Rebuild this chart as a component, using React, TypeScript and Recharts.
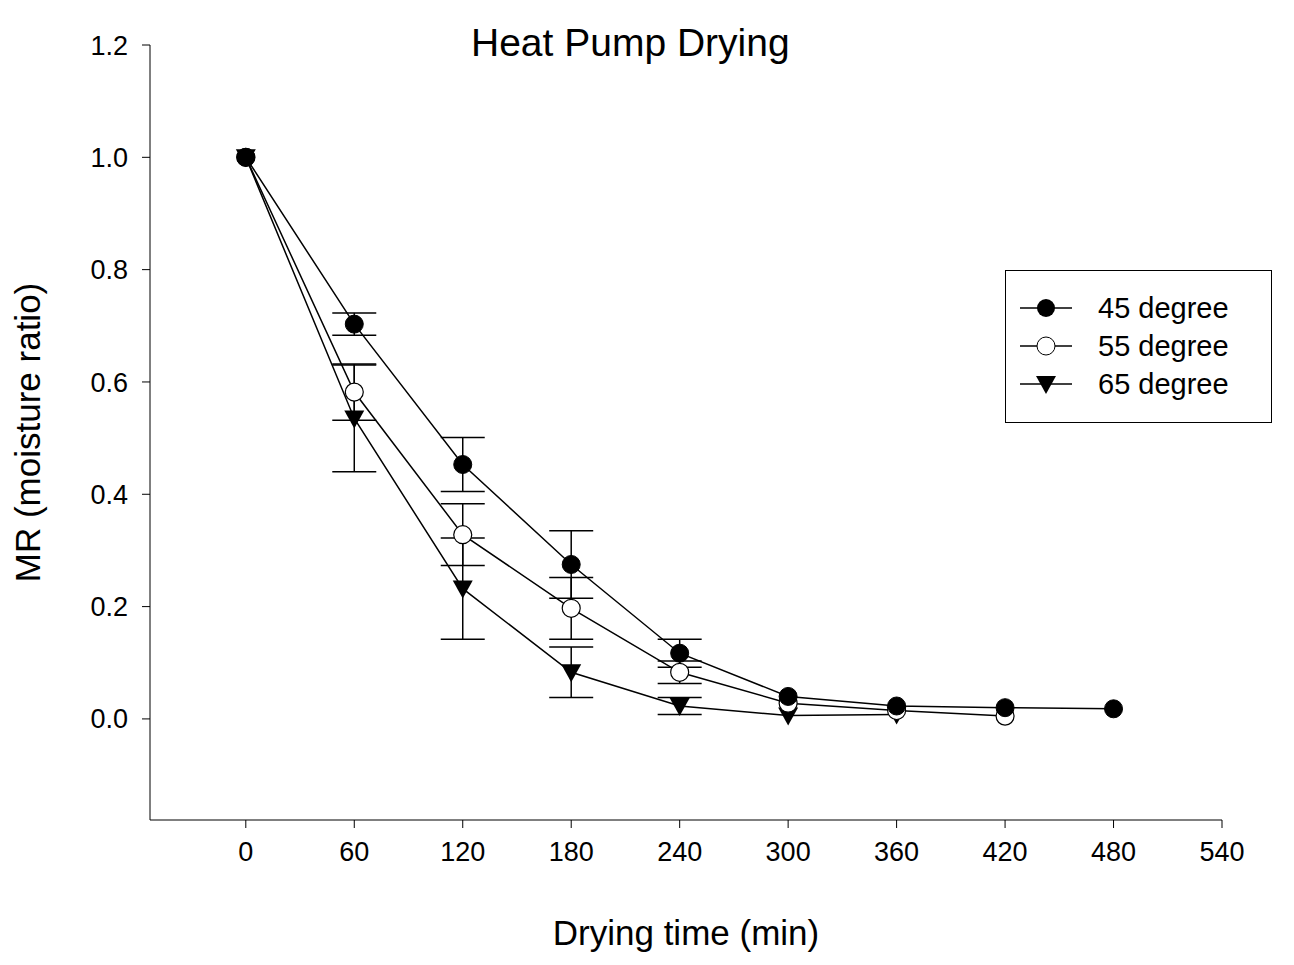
import { LineChart, Line, XAxis, YAxis, ErrorBar } from 'recharts';

const times45 = [0, 60, 120, 180, 240, 300, 360, 420, 480];
const mr45 = [1.0, 0.703, 0.453, 0.275, 0.117, 0.04, 0.023, 0.02, 0.018];
const err45 = [0, 0.02, 0.048, 0.06, 0.025, 0, 0, 0, 0];

const times55 = [0, 60, 120, 180, 240, 300, 360, 420];
const mr55 = [1.0, 0.582, 0.328, 0.197, 0.083, 0.028, 0.015, 0.005];
const err55 = [0, 0.05, 0.055, 0.055, 0.02, 0, 0, 0];

const times65 = [0, 60, 120, 180, 240, 300, 360];
const mr65 = [1.0, 0.535, 0.232, 0.083, 0.023, 0.006, 0.008];
const err65 = [0, 0.095, 0.09, 0.045, 0.015, 0, 0];

const xTicks = [0, 60, 120, 180, 240, 300, 360, 420, 480, 540];
const yTicks = [0, 0.2, 0.4, 0.6, 0.8, 1.0, 1.2];

const build = (t: number[], v: number[], e: number[]) =>
  t.map((x, i) => ({ t: x, mr: v[i], err: e[i] }));

const data45 = build(times45, mr45, err45);
const data55 = build(times55, mr55, err55);
const data65 = build(times65, mr65, err65);

const FONT = '"Liberation Sans", Arial, sans-serif';

function FilledDot(props: any) {
  const { cx, cy } = props;
  return <circle cx={cx} cy={cy} r={9} fill="#000" stroke="#000" />;
}
function OpenDot(props: any) {
  const { cx, cy } = props;
  return <circle cx={cx} cy={cy} r={9} fill="#fff" stroke="#000" strokeWidth={1.2} />;
}
function TriDot(props: any) {
  const { cx, cy } = props;
  return <path d={`M${cx - 10},${cy - 8} L${cx + 10},${cy - 8} L${cx},${cy + 10} Z`} fill="#000" />;
}

function LegendRow({ kind, label }: { kind: string; label: string }) {
  return (
    <div style={{ display: 'flex', alignItems: 'center', height: 38 }}>
      <svg width={60} height={24}>
        <line x1={4} y1={12} x2={56} y2={12} stroke="#000" strokeWidth={1.5} />
        {kind === 'filled' && <circle cx={30} cy={12} r={9} fill="#000" />}
        {kind === 'open' && <circle cx={30} cy={12} r={9} fill="#fff" stroke="#000" />}
        {kind === 'tri' && <path d="M20,4 L40,4 L30,22 Z" fill="#000" />}
      </svg>
      <span style={{ marginLeft: 22, fontSize: 29 }}>{label}</span>
    </div>
  );
}

export default function App() {
  return (
    <div style={{ position: 'relative', width: 1294, height: 965, margin: -8, background: '#fff', fontFamily: FONT }}>
      <div style={{ position: 'absolute', top: 20, left: 471, fontSize: 39, lineHeight: '46px' }}>Heat Pump Drying</div>
      <LineChart width={1294} height={965} margin={{ top: 45, right: 72, bottom: 0, left: 0 }}>
        <XAxis
          type="number"
          dataKey="t"
          domain={[-53, 540]}
          ticks={xTicks}
          allowDataOverflow
          height={145}
          stroke="#000"
          tickSize={8}
          tick={{ fill: '#000', fontSize: 27, fontFamily: FONT }}
          tickMargin={14}
          label={{ value: 'Drying time (min)', position: 'insideBottom', offset: 20, fill: '#000', fontSize: 35, fontFamily: FONT }}
        />
        <YAxis
          type="number"
          domain={[-0.18, 1.2]}
          ticks={yTicks}
          allowDataOverflow
          width={150}
          stroke="#000"
          tickSize={8}
          tickMargin={14}
          tickFormatter={(v: number) => v.toFixed(1)}
          tick={{ fill: '#000', fontSize: 27, fontFamily: FONT }}
          label={{ value: 'MR (moisture ratio)', angle: -90, position: 'insideLeft', offset: 28, fill: '#000', fontSize: 35, fontFamily: FONT, style: { textAnchor: 'middle' } }}
        />
        <Line data={data65} dataKey="mr" stroke="#000" strokeWidth={1.5} dot={<TriDot />} isAnimationActive={false}>
          <ErrorBar dataKey="err" width={22} stroke="#000" strokeWidth={1.5} />
        </Line>
        <Line data={data55} dataKey="mr" stroke="#000" strokeWidth={1.5} dot={<OpenDot />} isAnimationActive={false}>
          <ErrorBar dataKey="err" width={22} stroke="#000" strokeWidth={1.5} />
        </Line>
        <Line data={data45} dataKey="mr" stroke="#000" strokeWidth={1.5} dot={<FilledDot />} isAnimationActive={false}>
          <ErrorBar dataKey="err" width={22} stroke="#000" strokeWidth={1.5} />
        </Line>
      </LineChart>
      <div style={{ position: 'absolute', left: 1005, top: 270, width: 267, height: 153, border: '1.5px solid #000', boxSizing: 'border-box', padding: '18px 0 0 10px', background: '#fff' }}>
        <LegendRow kind="filled" label="45 degree" />
        <LegendRow kind="open" label="55 degree" />
        <LegendRow kind="tri" label="65 degree" />
      </div>
    </div>
  );
}
